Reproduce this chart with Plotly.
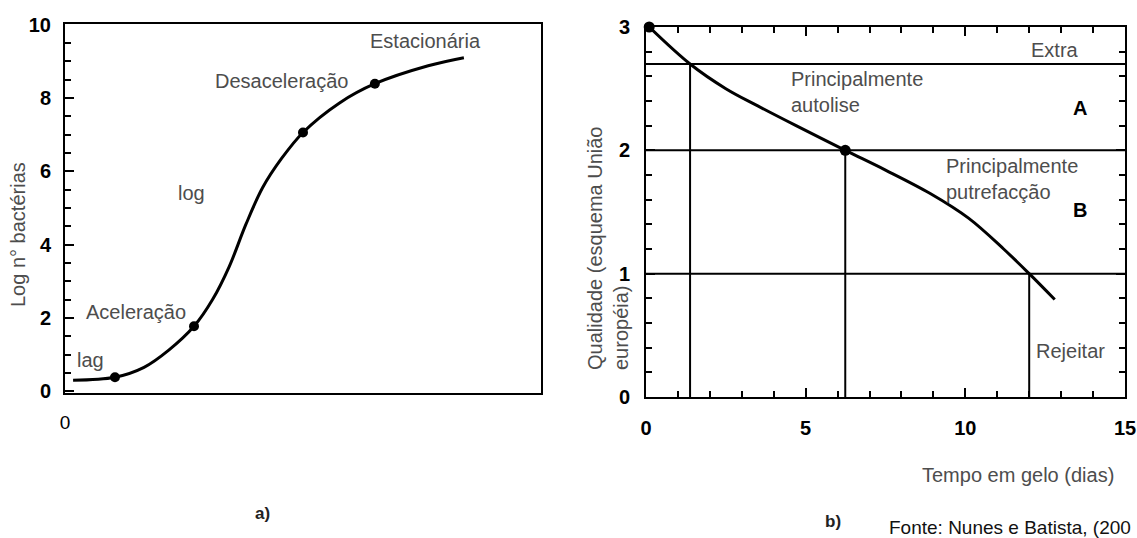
import plotly.graph_objects as go

# ---------------- data: panel a) bacterial growth curve ----------------
growth_time = [0.17, 1.05, 1.66, 2.18, 2.71, 3.10, 3.45, 3.80, 4.15, 4.55, 5.00, 5.76, 6.51, 7.63, 8.38]
growth_log = [0.30, 0.38, 0.65, 1.12, 1.77, 2.50, 3.40, 4.55, 5.55, 6.35, 7.06, 7.86, 8.39, 8.88, 9.10]
phase_time = [1.05, 2.71, 5.00, 6.51]
phase_log = [0.38, 1.77, 7.06, 8.39]
phase_labels = ["lag", "Aceleração", "log", "Desaceleração", "Estacionária"]
phase_label_x = [0.54, 1.49, 2.66, 4.54, 7.58]
phase_label_y = [0.84, 2.15, 5.42, 8.47, 9.56]

# ---------------- data: panel b) quality vs days on ice ----------------
ice_days = [0.10, 1.38, 2.50, 3.50, 4.70, 6.24, 7.50, 8.90, 10.10, 11.20, 12.00, 12.80]
quality = [3.00, 2.70, 2.50, 2.36, 2.20, 2.00, 1.84, 1.65, 1.45, 1.20, 1.00, 0.79]
key_days = [0.10, 6.24]
key_quality = [3.00, 2.00]
grade_limits = [2.7, 2.0, 1.0]
grade_days = [1.38, 6.24, 12.0]
grade_labels = ["Extra", "A", "B", "Rejeitar"]
grade_label_x = [12.8, 13.58, 13.58, 13.3]
grade_label_y = [2.81, 2.34, 1.52, 0.37]
process_labels = ["Principalmente<br>autolise", "Principalmente<br>putrefacção"]
process_label_x = [4.49, 9.34]
process_label_y = [2.47, 1.77]

left_yticks = [0, 2, 4, 6, 8, 10]
right_xticks = [0, 5, 10, 15]
right_yticks = [0, 1, 2, 3]

W, H = 1137, 538
FONT = "Liberation Sans, Arial, sans-serif"
GRAY = "#4d4d4d"
TXT = 20

fig = go.Figure()

# panel a
fig.add_trace(go.Scatter(x=growth_time, y=growth_log, mode="lines",
                         line=dict(color="black", width=3, shape="spline", smoothing=1.0),
                         xaxis="x", yaxis="y", showlegend=False, hoverinfo="skip"))
fig.add_trace(go.Scatter(x=phase_time, y=phase_log, mode="markers",
                         marker=dict(color="black", size=10),
                         xaxis="x", yaxis="y", showlegend=False))

# panel b: grade limit lines
for lim, day in zip(grade_limits, grade_days):
    fig.add_trace(go.Scatter(x=[0, 15], y=[lim, lim], mode="lines",
                             line=dict(color="black", width=2),
                             xaxis="x2", yaxis="y2", showlegend=False, hoverinfo="skip"))
    fig.add_trace(go.Scatter(x=[day, day], y=[0, lim], mode="lines",
                             line=dict(color="black", width=2),
                             xaxis="x2", yaxis="y2", showlegend=False, hoverinfo="skip"))

fig.add_trace(go.Scatter(x=ice_days, y=quality, mode="lines",
                         line=dict(color="black", width=3, shape="spline", smoothing=1.0),
                         xaxis="x2", yaxis="y2", showlegend=False, hoverinfo="skip"))
fig.add_trace(go.Scatter(x=key_days, y=key_quality, mode="markers",
                         marker=dict(color="black", size=11),
                         xaxis="x2", yaxis="y2", showlegend=False, cliponaxis=False))

annotations = []
for t, x, y in zip(phase_labels, phase_label_x, phase_label_y):
    annotations.append(dict(text=t, x=x, y=y, xref="x", yref="y", showarrow=False,
                            xanchor="center", yanchor="middle",
                            font=dict(family=FONT, size=TXT, color=GRAY)))
for t, x, y in zip(grade_labels, grade_label_x, grade_label_y):
    bold = t in ("A", "B")
    annotations.append(dict(text=t, x=x, y=y, xref="x2", yref="y2", showarrow=False,
                            xanchor="center", yanchor="middle",
                            font=dict(family=FONT, size=20 if bold else TXT,
                                      color="black" if bold else GRAY,
                                      weight="bold" if bold else "normal")))
for t, x, y in zip(process_labels, process_label_x, process_label_y):
    annotations.append(dict(text=t, x=x, y=y, xref="x2", yref="y2", showarrow=False,
                            xanchor="left", yanchor="middle", align="left",
                            font=dict(family=FONT, size=TXT, color=GRAY)))

# axis titles and captions
annotations += [
    dict(text="Log n° bactérias", x=18 / W, y=1 - 235 / H, xref="paper", yref="paper",
         xanchor="center", yanchor="middle",
         textangle=-90, showarrow=False, font=dict(family=FONT, size=TXT, color=GRAY)),
    dict(text="Qualidade (esquema União<br>européia)", x=608 / W, y=1 - 248 / H,
         xref="paper", yref="paper", xanchor="center", yanchor="middle",
         textangle=-90, showarrow=False, align="left",
         font=dict(family=FONT, size=TXT, color=GRAY)),
    dict(text="Tempo em gelo (dias)", x=1018 / W, y=1 - 475 / H, xref="paper", yref="paper",
         xanchor="center", yanchor="middle",
         showarrow=False, font=dict(family=FONT, size=TXT, color=GRAY)),
    dict(text="a)", x=262 / W, y=1 - 513 / H, xref="paper", yref="paper", showarrow=False,
         xanchor="center", yanchor="middle",
         font=dict(family=FONT, size=17, color="#222", weight="bold")),
    dict(text="b)", x=833 / W, y=1 - 521 / H, xref="paper", yref="paper", showarrow=False,
         xanchor="center", yanchor="middle",
         font=dict(family=FONT, size=17, color="#222", weight="bold")),
    dict(text="Fonte: Nunes e Batista, (200", x=887 / W, y=1 - 527 / H, xref="paper",
         yref="paper", xanchor="left", yanchor="middle", showarrow=False,
         font=dict(family=FONT, size=19, color="#111")),
]

tickfont = dict(family=FONT, size=20, color="black", weight="bold")

fig.update_layout(
    width=W, height=H, margin=dict(l=0, r=0, t=0, b=0, autoexpand=False),
    paper_bgcolor="white", plot_bgcolor="white",
    annotations=annotations,
    xaxis=dict(domain=[65 / W, 541 / W], range=[0, 10], anchor="y",
               showline=True, linecolor="black", linewidth=2, mirror=True,
               showgrid=False, zeroline=False, tickvals=[0], ticktext=["0"],
               ticks="", tickfont=dict(family=FONT, size=19, color="black"),
               ticklabelstandoff=11),
    yaxis=dict(domain=[1 - 393 / H, 1 - 24 / H], range=[-0.05, 10.02], anchor="x",
               showline=True, linecolor="black", linewidth=2, mirror=True,
               showgrid=False, zeroline=False, tickvals=left_yticks,
               ticks="inside", ticklen=9, tickwidth=2, tickcolor="black",
               minor=dict(dtick=0.5, ticks="inside", ticklen=6, tickwidth=2, tickcolor="black"),
               tickfont=tickfont, ticklabelstandoff=8),
    xaxis2=dict(domain=[646 / W, 1125 / W], range=[0, 15], anchor="y2",
                showline=True, linecolor="black", linewidth=2, mirror="ticks",
                showgrid=False, zeroline=False, tickvals=right_xticks,
                ticks="inside", ticklen=9, tickwidth=2, tickcolor="black",
                minor=dict(dtick=1, ticks="inside", ticklen=6, tickwidth=2, tickcolor="black"),
                tickfont=tickfont, ticklabelstandoff=12),
    yaxis2=dict(domain=[1 - 397 / H, 1 - 27 / H], range=[0, 3], anchor="x2",
                showline=True, linecolor="black", linewidth=2, mirror="ticks",
                showgrid=False, zeroline=False, tickvals=right_yticks,
                ticks="inside", ticklen=9, tickwidth=2, tickcolor="black",
                minor=dict(dtick=0.2, ticks="inside", ticklen=6, tickwidth=2, tickcolor="black"),
                tickfont=tickfont, ticklabelstandoff=10),
)

fig.write_html("out.html", config={"displayModeBar": False},
               post_script="document.body.style.margin='0';document.body.style.overflow='hidden';")
